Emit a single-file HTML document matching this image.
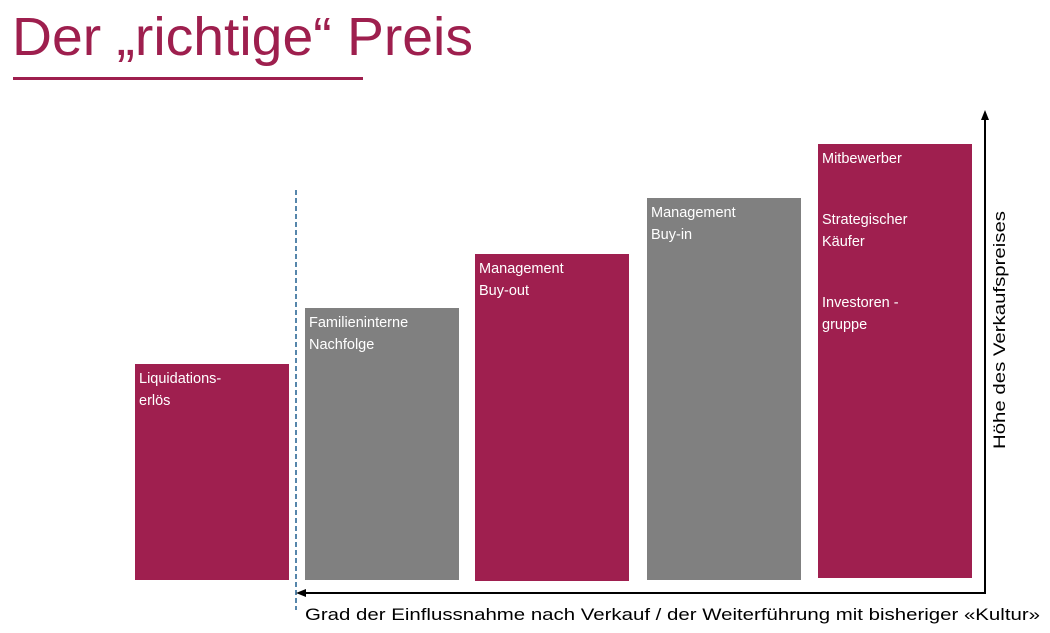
<!DOCTYPE html>
<html><head><meta charset="utf-8"><style>
body{margin:0;width:1050px;height:633px;background:#fff;position:relative;overflow:hidden;font-family:"Liberation Sans",sans-serif}
.u{position:absolute;left:13px;top:77px;width:350px;height:3px;background:#9e1f4e}
.b{position:absolute;color:#fff;font-size:14.5px;line-height:22px;padding:4px 0 0 4px;box-sizing:border-box}
.b div{margin-top:39px}
.m{background:#9f1f4f}.g{background:#808080}
</style></head><body>
<div class="u"></div>
<div class="b m" style="left:135px;top:364px;width:154px;height:216px">Liquidations-<br>erlös</div>
<div class="b g" style="left:305px;top:308px;width:154px;height:272px">Familieninterne<br>Nachfolge</div>
<div class="b m" style="left:475px;top:254px;width:154px;height:327px">Management<br>Buy-out</div>
<div class="b g" style="left:647px;top:198px;width:154px;height:382px">Management<br>Buy-in</div>
<div class="b m" style="left:818px;top:144px;width:154px;height:434px">Mitbewerber<div>Strategischer<br>Käufer</div><div>Investoren -<br>gruppe</div></div>
<svg width="1050" height="633" style="position:absolute;left:0;top:0">
<text x="12" y="55" font-size="54" font-family="Liberation Sans, sans-serif" fill="#9e1f4e" textLength="461" lengthAdjust="spacingAndGlyphs">Der „richtige“ Preis</text>
<line x1="296" y1="190" x2="296" y2="610" stroke="#1f5f8f" stroke-width="1.5" stroke-dasharray="5,3"/>
<polyline points="305,593 985,593 985,118" fill="none" stroke="#000" stroke-width="2"/>
<polygon points="296,593 306,589 306,597" fill="#000"/>
<polygon points="985,110 981,120 989,120" fill="#000"/>
<text x="305" y="620" font-size="16.5" font-family="Liberation Sans Narrow, Liberation Sans, sans-serif" fill="#000" textLength="735" lengthAdjust="spacingAndGlyphs">Grad der Einflussnahme nach Verkauf / der Weiterführung mit bisheriger «Kultur»</text>
<text transform="translate(1005,449) rotate(-90)" font-size="16.5" font-family="Liberation Sans, sans-serif" fill="#000" textLength="238" lengthAdjust="spacingAndGlyphs">Höhe des Verkaufspreises</text>
</svg>
</body></html>
